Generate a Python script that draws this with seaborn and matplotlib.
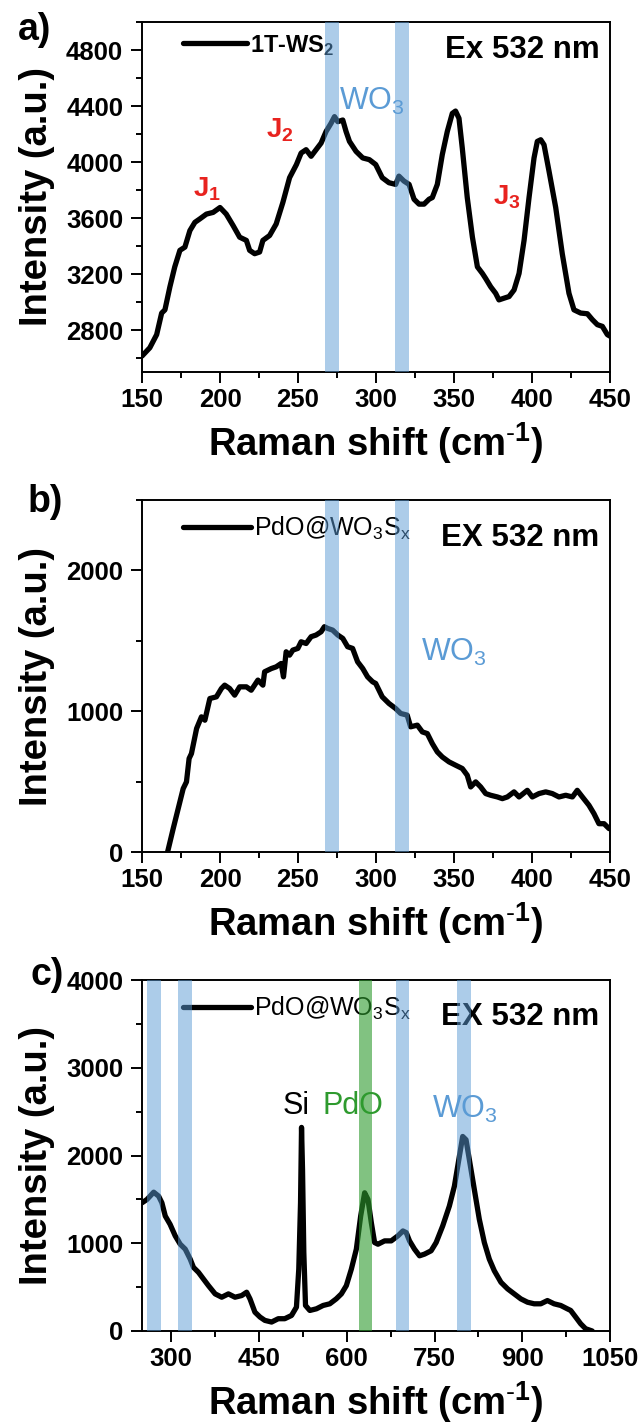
import matplotlib
matplotlib.use("Agg")
import matplotlib.pyplot as plt
from matplotlib.ticker import MultipleLocator
import seaborn as sns
import pandas as pd

# ---------------- data ----------------
# Panel a: 1T-WS2
a_shift = [150, 155, 159.4, 162.6, 164.7, 167.9, 171, 174.3, 177.5, 180.7, 183.9, 187, 191.3, 195.6,
           200, 204, 208.4, 212.6, 216.9, 219, 222.2, 225.4, 227.5, 231.8, 236, 240.3, 244.6, 249,
           252, 255.2, 258.4, 261.6, 264.8, 268, 271.2, 273.4, 275.5, 278.7, 280.8, 283, 287.2,
           291.5, 295.7, 299.8, 304, 308.3, 312.6, 314.7, 317.9, 321.2, 324.4, 327.6, 330.8, 334,
           336.1, 339.3, 342.5, 345.7, 348.9, 351, 353.2, 355.3, 358.5, 361.8, 365, 368.2, 370.3,
           373.5, 376.7, 378.8, 382, 385.3, 388.5, 391.7, 394.9, 398.1, 401.3, 403.4, 405.6, 407.7,
           410.9, 415.2, 419.4, 423.7, 426.9, 431.2, 435.5, 438.7, 441.9, 445.1, 448.3, 450]
a_intensity = [2614, 2673, 2767, 2921, 2944, 3109, 3251, 3369, 3392, 3510, 3569, 3593, 3628, 3640,
               3675, 3628, 3546, 3463, 3440, 3369, 3345, 3357, 3440, 3475, 3557, 3711, 3888, 3982,
               4064, 4088, 4041, 4088, 4135, 4218, 4277, 4324, 4288, 4300, 4218, 4147, 4076,
               4029, 4017, 3982, 3888, 3852, 3840, 3899, 3864, 3840, 3734, 3699, 3699, 3734,
               3746, 3840, 4053, 4218, 4347, 4364, 4312, 4100, 3746, 3463, 3251, 3204, 3168,
               3109, 3062, 3015, 3027, 3039, 3086, 3204, 3439, 3746, 4029, 4147, 4159, 4123,
               3935, 3675, 3345, 3062, 2944, 2921, 2916, 2874, 2838, 2826, 2767, 2756]
a_wo3_bands = [(267, 276), (312, 321)]
a_j_labels = ["J$_1$", "J$_2$", "J$_3$"]
a_j_pos = [(191.8, 3805), (238.2, 4229), (383.8, 3746)]

# Panel b: PdO@WO3Sx (150-450)
b_shift = [166.4, 170, 173.2, 176.4, 178.5, 180.2, 181.7, 185, 188.1, 190.3, 193.5, 197.7, 200.9,
           203, 206.2, 209.4, 212.6, 216.9, 220, 224.3, 227.5, 228.6, 232.9, 236, 239.2, 240.7,
           242.4, 244.6, 246.7, 249.9, 252, 255.2, 258.4, 261.6, 264.8, 266.9, 269, 272.2, 275.5,
           278.7, 281.8, 285, 288.2, 291.5, 294.6, 297.8, 299.8, 304, 308.3, 312.6, 315.8, 320,
           322.2, 326.5, 329.7, 332.9, 336.1, 339.3, 342.5, 346.8, 351.1, 355.3, 358.5, 360.7,
           363.9, 367.1, 370.3, 373.5, 377.8, 381, 384.2, 388.5, 391.7, 397, 400.2, 404.5, 408.8,
           413, 417.3, 421.6, 425.9, 429, 432.3, 436.5, 439.7, 442.9, 446.2, 449.4]
b_intensity = [0, 166, 308, 450, 498, 664, 699, 877, 960, 936, 1090, 1102, 1161,
               1185, 1161, 1114, 1173, 1173, 1149, 1221, 1185, 1280, 1303, 1315, 1339, 1244,
               1422, 1398, 1434, 1446, 1493, 1481, 1529, 1541, 1564, 1600, 1588, 1576, 1541,
               1517, 1458, 1446, 1351, 1303, 1244, 1209, 1197, 1102, 1055, 1019, 984, 972,
               889, 901, 853, 841, 770, 711, 675, 640, 616, 593, 545, 462,
               498, 462, 415, 403, 391, 379, 391, 427, 391, 438, 391, 415, 427,
               415, 391, 403, 391, 438, 391, 332, 273, 201, 201, 166]
b_wo3_bands = [(267, 276), (312, 321)]

# Panel c: PdO@WO3Sx (250-1050)
c_shift = [250, 258.5, 270, 278.4, 284, 289.8, 298, 306.8, 315.3, 323.9, 332.4, 338, 346.6, 355,
           363.6, 375, 386.3, 397.7, 409, 420.4, 428.9, 434.6, 443, 451.7, 460, 471.5, 482.9, 494,
           505.6, 514, 518, 521, 522.7, 524.4, 526.6, 529.5, 536.9, 548.2, 559.6, 571, 582, 590.8,
           599.3, 607.9, 616.4, 623.8, 630.6, 636.3, 642, 647.6, 653.4, 664.7, 676, 687.4, 696,
           701.7, 707.3, 715.8, 724.4, 732.9, 744.2, 752.8, 764, 775.4, 784, 792.5, 798.2, 803.9,
           809.6, 818.1, 826.6, 835.2, 843.7, 852.2, 863.6, 875, 886.3, 897.6, 909, 920.4, 931.7,
           943, 954.4, 965.8, 977, 982.8, 991.3, 999.8, 1008.3, 1019.6]
c_intensity = [1461, 1499, 1582, 1537, 1461, 1310, 1216, 1084, 989, 933, 819, 725, 668, 593,
               517, 423, 385, 423, 385, 404, 442, 366, 215, 159, 121, 102, 140, 140,
               177, 272, 706, 1461, 2320, 1839, 895, 291, 234, 253, 291, 310, 366, 423,
               517, 706, 933, 1310, 1575, 1499, 1235, 1008, 989, 1027, 1027, 1084, 1140,
               1121, 1027, 933, 857, 876, 914, 1008, 1197, 1424, 1650, 1990, 2217, 2179,
               1952, 1612, 1273, 1008, 819, 687, 555, 480, 423, 366, 328, 310, 310,
               347, 310, 291, 253, 234, 159, 83, 26, 0]
c_wo3_bands = [(258, 282), (312, 335), (684, 707), (789, 812)]
c_pdo_bands = [(621, 643)]

# ---------------- style ----------------
sns.set_style("ticks")
plt.rcParams["font.family"] = ["Liberation Sans", "DejaVu Sans"]
plt.rcParams["mathtext.fontset"] = "custom"
plt.rcParams["mathtext.rm"] = "Liberation Sans"
plt.rcParams["mathtext.it"] = "Liberation Sans:italic"
plt.rcParams["mathtext.bf"] = "Liberation Sans:bold"
plt.rcParams["mathtext.default"] = "regular"
for k in ("text.color", "axes.labelcolor", "xtick.color", "ytick.color", "axes.edgecolor"):
    plt.rcParams[k] = "black"

BLUE = "#5b9bd5"
GREEN = "#2e9a2e"
RED = "#e8231f"
TICK_FS = 18.5
LABEL_FS = 27.5

fig = plt.figure(figsize=(6.42, 14.28), dpi=100)
L, W = 142 / 642, 468 / 642
ax_a = fig.add_axes([L, 1 - 372 / 1428, W, 350 / 1428])
ax_b = fig.add_axes([L, 1 - 852 / 1428, W, 352 / 1428])
ax_c = fig.add_axes([L, 1 - 1331 / 1428, W, 351 / 1428])


def draw(ax, x, y, label, bold_legend, legend_y, ex_text, ex_y):
    df = pd.DataFrame({"shift": x, "intensity": y})
    sns.lineplot(data=df, x="shift", y="intensity", ax=ax, color="black", lw=3.8,
                 estimator=None, sort=False, label=label, zorder=3)
    ax.legend(loc="center left", bbox_to_anchor=(0.088, legend_y), frameon=False,
              handlelength=2.7, handletextpad=0.15, borderpad=0, borderaxespad=0,
              prop={"size": 17 if bold_legend else 18,
                    "weight": "bold" if bold_legend else "normal"})
    ax.text(0.978, ex_y, ex_text, transform=ax.transAxes, ha="right", va="center",
            fontsize=22.5, fontweight="bold")
    ax.set_xlabel("Raman shift (cm$^{\\text{-}1}$)", fontsize=LABEL_FS, fontweight="bold",
                  labelpad=6)
    ax.set_ylabel("Intensity (a.u.)", fontsize=LABEL_FS, fontweight="bold")
    ax.yaxis.set_label_coords(-0.185, 0.5)
    ax.tick_params(which="major", direction="out", length=8, width=1.4, pad=3.5,
                   labelsize=TICK_FS)
    ax.tick_params(which="minor", direction="out", length=4.5, width=1.4)
    ax.tick_params(axis="y", which="major", pad=5.5)
    for s in ax.spines.values():
        s.set_linewidth(1.4)


# panel a
draw(ax_a, a_shift, a_intensity, "1T-WS$_2$", True, 0.934, "Ex 532 nm", 0.92)
ax_a.set_xlim(150, 450)
ax_a.set_ylim(2500, 5000)
ax_a.xaxis.set_major_locator(MultipleLocator(50))
ax_a.xaxis.set_minor_locator(MultipleLocator(25))
ax_a.yaxis.set_major_locator(MultipleLocator(400))
ax_a.yaxis.set_minor_locator(MultipleLocator(200))
for lo, hi in a_wo3_bands:
    ax_a.axvspan(lo, hi, color=BLUE, alpha=0.5, lw=0, zorder=6)
for lab, (jx, jy) in zip(a_j_labels, a_j_pos):
    ax_a.text(jx, jy, lab, color=RED, fontsize=20, fontweight="bold", ha="center", va="center")
ax_a.text(276, 4430, "WO$_3$", color=BLUE, fontsize=22, ha="left", va="center")

# panel b
draw(ax_b, b_shift, b_intensity, "PdO@WO$_3$S$_x$", False, 0.92, "EX 532 nm", 0.892)
ax_b.set_xlim(150, 450)
ax_b.set_ylim(0, 2500)
ax_b.xaxis.set_major_locator(MultipleLocator(50))
ax_b.xaxis.set_minor_locator(MultipleLocator(25))
ax_b.yaxis.set_major_locator(MultipleLocator(1000))
ax_b.yaxis.set_minor_locator(MultipleLocator(500))
for lo, hi in b_wo3_bands:
    ax_b.axvspan(lo, hi, color=BLUE, alpha=0.5, lw=0, zorder=6)
ax_b.text(328.6, 1420, "WO$_3$", color=BLUE, fontsize=22, ha="left", va="center")

# panel c
draw(ax_c, c_shift, c_intensity, "PdO@WO$_3$S$_x$", False, 0.92, "EX 532 nm", 0.895)
ax_c.set_xlim(250, 1050)
ax_c.set_ylim(0, 4000)
ax_c.xaxis.set_major_locator(MultipleLocator(150))
ax_c.xaxis.set_minor_locator(MultipleLocator(75))
ax_c.yaxis.set_major_locator(MultipleLocator(1000))
ax_c.yaxis.set_minor_locator(MultipleLocator(500))
for lo, hi in c_wo3_bands:
    ax_c.axvspan(lo, hi, color=BLUE, alpha=0.5, lw=0, zorder=6)
for lo, hi in c_pdo_bands:
    ax_c.axvspan(lo, hi, color=GREEN, alpha=0.6, lw=0, zorder=6)
ax_c.text(514, 2560, "Si", color="black", fontsize=22, ha="center", va="center")
ax_c.text(610, 2560, "PdO", color=GREEN, fontsize=22, ha="center", va="center")
ax_c.text(802, 2530, "WO$_3$", color=BLUE, fontsize=22, ha="center", va="center")

for ax in (ax_a, ax_b, ax_c):
    for lab in ax.get_xticklabels() + ax.get_yticklabels():
        lab.set_fontweight("bold")

fig.text(18 / 642, 1 - 30 / 1428, "a)", fontsize=27, fontweight="bold", ha="left", va="center")
fig.text(28 / 642, 1 - 502 / 1428, "b)", fontsize=27, fontweight="bold", ha="left", va="center")
fig.text(30 / 642, 1 - 975 / 1428, "c)", fontsize=27, fontweight="bold", ha="left", va="center")

fig.savefig("out.png", dpi=100)
